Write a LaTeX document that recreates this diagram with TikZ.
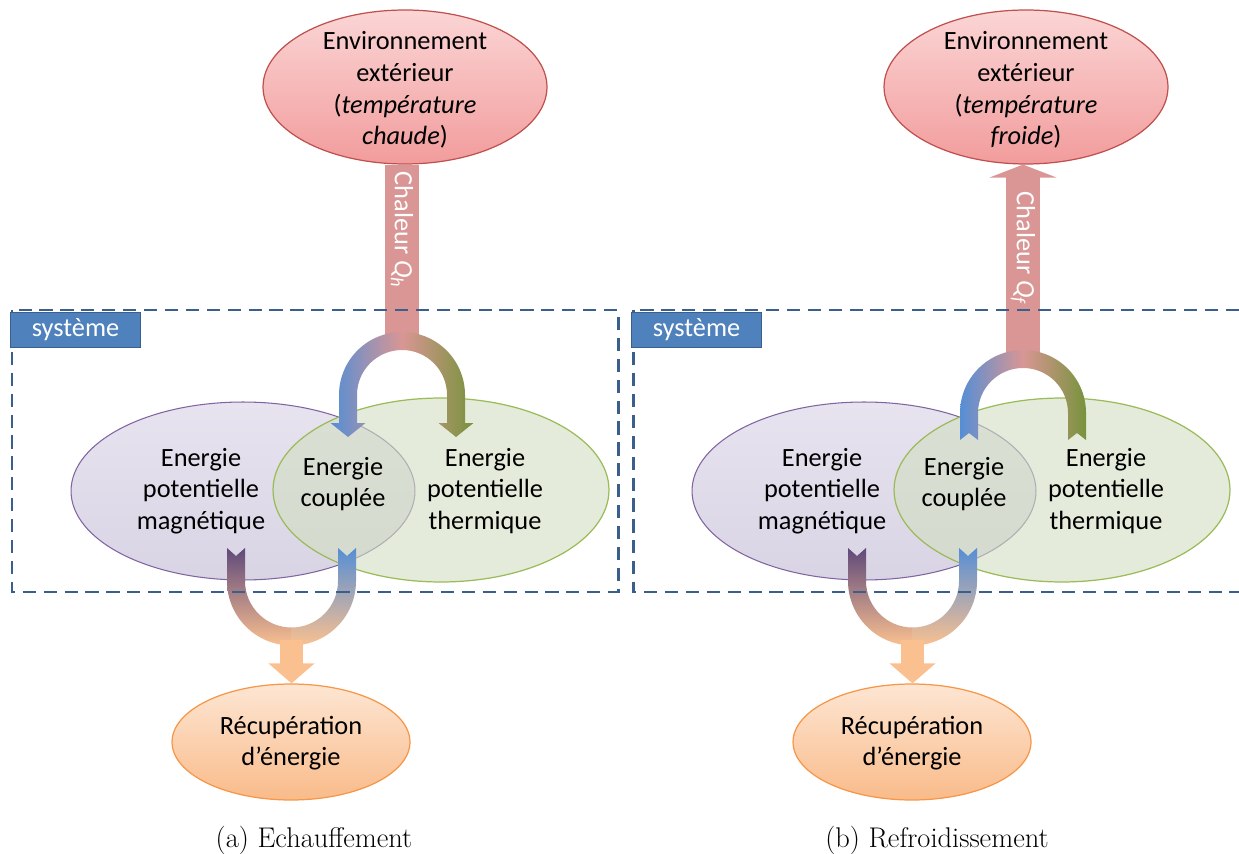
\documentclass[tikz,border=0pt]{standalone}
\usepackage{fontspec}
\newfontfamily\calibfont{Carlito}
\usetikzlibrary{positioning, shapes.geometric, arrows.meta}

\definecolor{envline}{HTML}{C0504D}
\definecolor{envtop}{HTML}{FBD5D5}
\definecolor{envbot}{HTML}{F29C9C}
\definecolor{heatred}{HTML}{D99694}
\definecolor{magline}{HTML}{8064A2}
\definecolor{magtop}{HTML}{E7E3EF}
\definecolor{magbot}{HTML}{D9D4E4}
\definecolor{thline}{HTML}{9BBB59}
\definecolor{thfill}{HTML}{D2DEC1}
\definecolor{recline}{HTML}{F79646}
\definecolor{rectop}{HTML}{FDE6D3}
\definecolor{recbot}{HTML}{F9BB8A}
\definecolor{gainorange}{HTML}{FAC090}
\definecolor{coolblue}{HTML}{558ED5}
\definecolor{hotgreen}{HTML}{77933C}
\definecolor{darkmag}{HTML}{5F497A}
\definecolor{sysline}{HTML}{3A5F8C}
\definecolor{sysfill}{HTML}{4F81BD}

\begin{document}
\begin{tikzpicture}[x=0.02cm, y=-0.02cm,
    txt/.style={font=\calibfont\fontsize{15}{18}\selectfont, align=center, inner sep=0pt},
    envbox/.style={ellipse, draw=envline, line width=0.7pt, top color=envtop, bottom color=envbot, minimum width=5.68cm, minimum height=3.08cm},
    magbox/.style={ellipse, draw=magline, line width=0.6pt, top color=magtop, bottom color=magbot, minimum width=6.88cm, minimum height=3.56cm},
    thbox/.style={ellipse, draw=thline, line width=0.7pt, fill=thfill, fill opacity=0.6, minimum width=6.72cm, minimum height=3.68cm},
    recbox/.style={ellipse, draw=recline, line width=0.7pt, top color=rectop, bottom color=recbot, minimum width=4.76cm, minimum height=2.32cm},
    heatpipe/.style={draw=heatred, line width=0.68cm},
    gainpipe/.style={draw=gainorange, line width=0.46cm, -{Triangle[width=0.9cm, length=0.4cm]}},
    forkshade/.style={left color=coolblue, right color=hotgreen, middle color=heatred},
    sysframe/.style={draw=sysline, line width=1.7pt, dash pattern=on 7.5pt off 4.4pt},
    syslabel/.style={txt, draw=sysline, fill=sysfill, text=white, line width=0.6pt, minimum width=2.6cm, minimum height=0.7cm, anchor=north west},
    shafttxt/.style={txt, text=white, rotate=-90},
    capt/.style={font=\fontsize{16.2}{19}\selectfont, anchor=base}]

    \useasboundingbox (0,0) rectangle (1239,854);

    % (a) heating
    \node (magA) [magbox] at (243,491) {};
    \node (thA) [thbox] at (441,490) {};
    \node (envA) [envbox] at (405,87) {};
    \node (recA) [recbox] at (291,742) {};

    \coordinate (forkA) at (402,395);
    \coordinate (jointA) at (402,345);
    \draw [heatpipe] (envA.south -| jointA) -- (jointA);
    \shade [forkshade, shift={(forkA)}] (-63,28) -- (-63,0) arc[start angle=180, end angle=360, radius=63]
        -- (63,28) -- (71.5,28) -- (54,42) -- (36.5,28) -- (45,28)
        -- (45,0) arc[start angle=0, end angle=-180, radius=45]
        -- (-45,28) -- (-36.5,28) -- (-54,42) -- (-71.5,28) -- cycle;

    \coordinate (cupA) at (291.5,581);
    \coordinate (tailA) at (291.5,640);
    \shade [top color=darkmag, bottom color=gainorange, shift={(cupA)}] (-64.5,-33) -- (-55.5,-25) -- (-46.5,-33)
        -- (-46.5,0) arc[start angle=180, end angle=90, radius=46.5] -- (0.5,46.5) -- (0.5,64.5)
        -- (0,64.5) arc[start angle=90, end angle=180, radius=64.5] -- cycle;
    \shade [top color=coolblue, bottom color=gainorange, shift={(cupA)}] (64.5,-33) -- (55.5,-25) -- (46.5,-33)
        -- (46.5,0) arc[start angle=0, end angle=90, radius=46.5]
        -- (0,64.5) arc[start angle=90, end angle=0, radius=64.5] -- cycle;
    \draw [gainpipe] (tailA) -- (tailA |- recA.north);

    \draw [sysframe] (12,310) rectangle (618,592);
    \node (sysA) [syslabel] at (10,312) {système};

    \node (heatA) [shafttxt] at (402,230) {Chaleur {\itshape Q\textsubscript{h}}};
    \node (envAtxt) [txt] at (405,90) {Environnement\\extérieur\\(\textit{température}\\\textit{chaude})};
    \node (magAtxt) [txt] at (201,491) {Energie\\potentielle\\magnétique};
    \node (cplAtxt) [txt] at (343,484) {Energie\\couplée};
    \node (thAtxt) [txt] at (485,491) {Energie\\potentielle\\thermique};
    \node (recAtxt) [txt] at (291,743) {Récupération\\d’énergie};
    \node (capA) [capt] at (314,847) {(a) Echauffement};

    % (b) cooling
    \node (magB) [magbox] at (864,491) {};
    \node (thB) [thbox] at (1062,490) {};
    \node (envB) [envbox] at (1026,87) {};
    \node (recB) [recbox] at (912,742) {};

    \coordinate (forkB) at (1023,413);
    \coordinate (jointB) at (1023,358);
    \draw [heatpipe, -{Triangle[width=1.34cm, length=0.26cm]}] (jointB) -- (envB.south -| jointB);
    \shade [forkshade, shift={(forkB)}] (-63,27) -- (-63,0) arc[start angle=180, end angle=360, radius=63]
        -- (63,27) -- (54,20) -- (45,27)
        -- (45,0) arc[start angle=0, end angle=-180, radius=45]
        -- (-45,27) -- (-54,20) -- cycle;

    \coordinate (cupB) at (912.5,581);
    \coordinate (tailB) at (912.5,640);
    \shade [top color=darkmag, bottom color=gainorange, shift={(cupB)}] (-64.5,-33) -- (-55.5,-25) -- (-46.5,-33)
        -- (-46.5,0) arc[start angle=180, end angle=90, radius=46.5] -- (0.5,46.5) -- (0.5,64.5)
        -- (0,64.5) arc[start angle=90, end angle=180, radius=64.5] -- cycle;
    \shade [top color=coolblue, bottom color=gainorange, shift={(cupB)}] (64.5,-33) -- (55.5,-25) -- (46.5,-33)
        -- (46.5,0) arc[start angle=0, end angle=90, radius=46.5]
        -- (0,64.5) arc[start angle=90, end angle=0, radius=64.5] -- cycle;
    \draw [gainpipe] (tailB) -- (tailB |- recB.north);

    \draw [sysframe] (1239,310) -- (633,310) -- (633,592) -- (1239,592);
    \node (sysB) [syslabel] at (631,312) {système};

    \node (heatB) [shafttxt] at (1023,248) {Chaleur {\itshape Q\textsubscript{f}}};
    \node (envBtxt) [txt] at (1026,90) {Environnement\\extérieur\\(\textit{température}\\\textit{froide})};
    \node (magBtxt) [txt] at (822,491) {Energie\\potentielle\\magnétique};
    \node (cplBtxt) [txt] at (964,484) {Energie\\couplée};
    \node (thBtxt) [txt] at (1106,491) {Energie\\potentielle\\thermique};
    \node (recBtxt) [txt] at (912,743) {Récupération\\d’énergie};
    \node (capB) [capt] at (937,847) {(b) Refroidissement};
\end{tikzpicture}
\end{document}
